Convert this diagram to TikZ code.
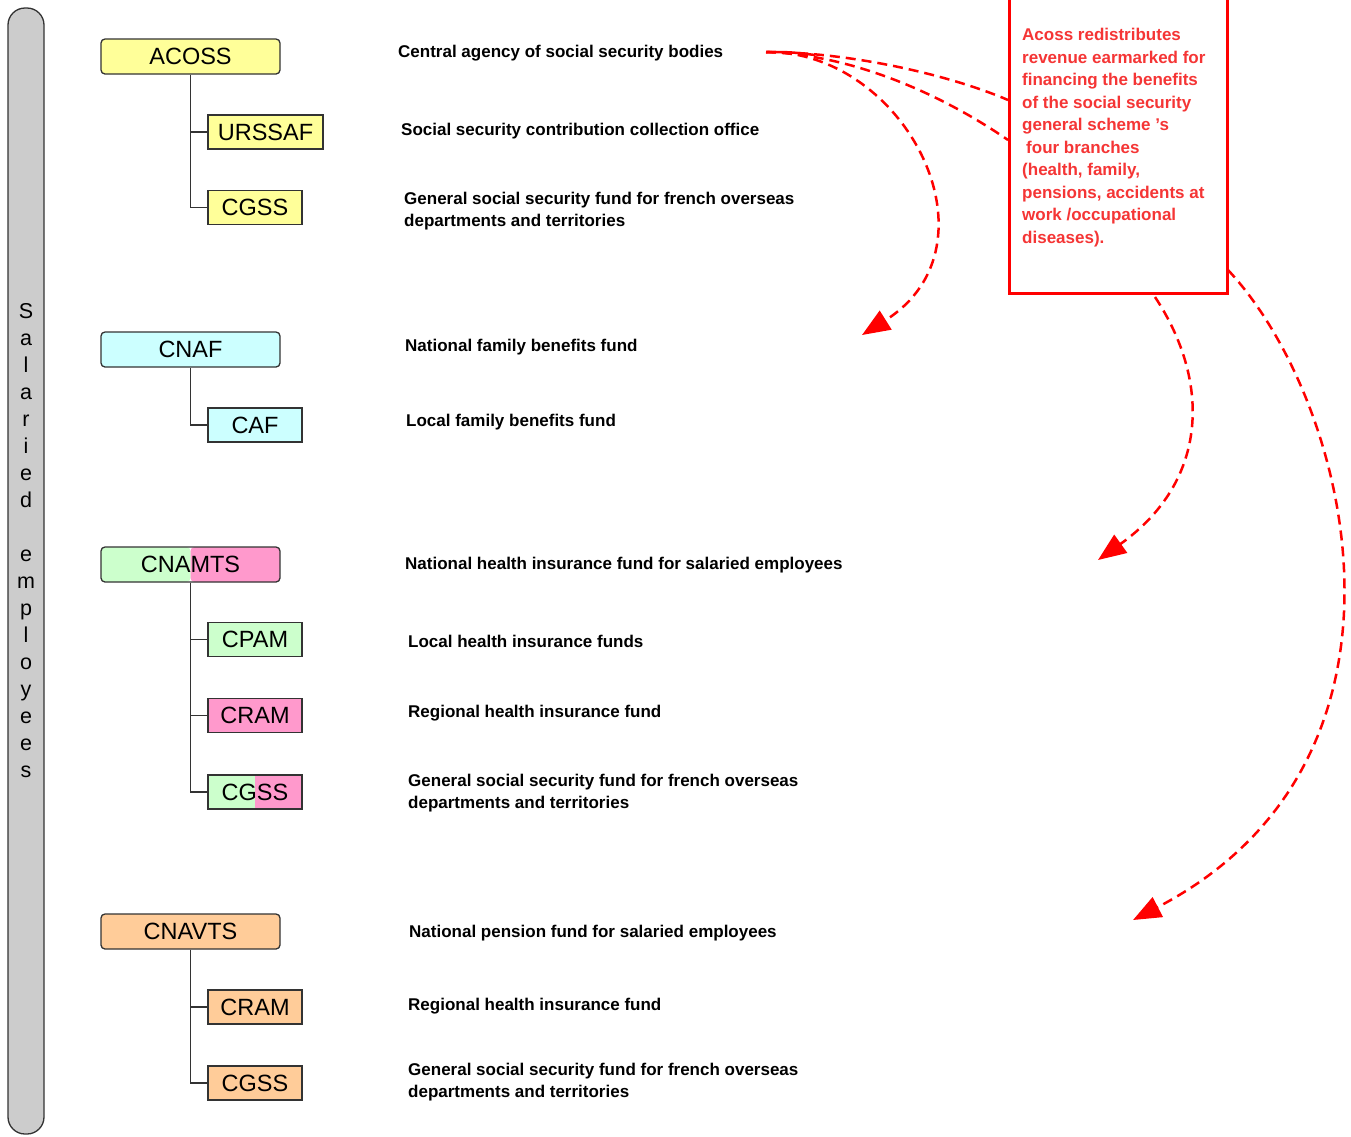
\documentclass[tikz,border=0pt]{standalone}
\usepackage{fontspec}
\setmainfont{Liberation Sans}
\usetikzlibrary{arrows.meta}
\definecolor{yel}{HTML}{FFFF99}
\definecolor{cyanb}{HTML}{CCFFFF}
\definecolor{greenb}{HTML}{CCFFCC}
\definecolor{pinkb}{HTML}{FF99CC}
\definecolor{orangeb}{HTML}{FFCC99}
\definecolor{barg}{HTML}{CCCCCC}
\definecolor{redl}{HTML}{FF0000}
\definecolor{redt}{HTML}{F53535}
\definecolor{edgec}{HTML}{333333}
\begin{document}
\begin{tikzpicture}[x=1pt,y=-1pt,
 parent/.style={draw=edgec, line width=1.3pt, rounded corners=4pt, minimum width=179pt, minimum height=35pt, inner sep=0pt, font=\fontsize{23.5}{26}\selectfont},
 child/.style={draw=edgec, line width=1.3pt, minimum width=94pt, minimum height=34pt, inner sep=0pt, font=\fontsize{23.5}{26}\selectfont},
 desc/.style={anchor=west, inner sep=0pt, align=left, font=\fontsize{17}{22}\selectfont\bfseries},
 tree/.style={draw=edgec, line width=1.3pt},
 flow/.style={draw=redl, line width=2.5pt, dash pattern=on 10pt off 6pt},
 tip/.style={-{Triangle[length=28pt,width=22pt,fill=redl]}},
 split/.style 2 args={path picture={\fill[#1] (path picture bounding box.south west) rectangle (path picture bounding box.north); \fill[#2] (path picture bounding box.south) rectangle (path picture bounding box.north east);}}
]
\useasboundingbox (0,0) rectangle (1351,1136);

% side bar
\node[draw=edgec, fill=barg, line width=1.3pt, rounded corners=17pt, minimum width=36pt, minimum height=1126pt, inner sep=0pt] (bar) at (26,571) {};
\node[align=center, inner sep=0pt, font=\fontsize{21.5}{27}\selectfont, text=black] (barlabel) at (26,541)
 {S\\a\\l\\a\\r\\i\\e\\d\\\mbox{}\\e\\m\\p\\l\\o\\y\\e\\e\\s};

% ACOSS group
\node[parent, fill=yel] (acoss) at (190.5,56.5) {ACOSS};
\node[child, fill=yel, minimum width=115pt] (urssaf) at (265.5,132) {URSSAF};
\node[child, fill=yel] (cgss1) at (255,207.5) {CGSS};
\draw[tree] (acoss.south) |- (urssaf.west);
\draw[tree] (acoss.south) |- (cgss1.west);

% CNAF group
\node[parent, fill=cyanb] (cnaf) at (190.5,349.5) {CNAF};
\node[child, fill=cyanb] (caf) at (255,425) {CAF};
\draw[tree] (cnaf.south) |- (caf.west);

% CNAMTS group
\node[parent, split={greenb}{pinkb}] (cnamts) at (190.5,564.5) {CNAMTS};
\node[child, fill=greenb] (cpam) at (255,639.5) {CPAM};
\node[child, fill=pinkb] (cram1) at (255,715.5) {CRAM};
\node[child, split={greenb}{pinkb}] (cgss2) at (255,792) {CGSS};
\draw[tree] (cnamts.south) |- (cpam.west);
\draw[tree] (cnamts.south) |- (cram1.west);
\draw[tree] (cnamts.south) |- (cgss2.west);

% CNAVTS group
\node[parent, fill=orangeb] (cnavts) at (190.5,931.5) {CNAVTS};
\node[child, fill=orangeb] (cram2) at (255,1007) {CRAM};
\node[child, fill=orangeb] (cgss3) at (255,1083) {CGSS};
\draw[tree] (cnavts.south) |- (cram2.west);
\draw[tree] (cnavts.south) |- (cgss3.west);

% descriptions
\node[desc] (d1) at (398,53) {Central agency of social security bodies};
\node[desc] (d2) at (401,131) {Social security contribution collection office};
\node[desc] (d3) at (404,211) {General social security fund for french overseas\\departments and territories};
\node[desc] (d4) at (405,347) {National family benefits fund};
\node[desc] (d5) at (406,422) {Local family benefits fund};
\node[desc] (d6) at (405,565) {National health insurance fund for salaried employees};
\node[desc] (d7) at (408,641) {Local health insurance funds};
\node[desc] (d8) at (408,713) {Regional health insurance fund};
\node[desc] (d9) at (408,793) {General social security fund for french overseas\\departments and territories};
\node[desc] (d10) at (409,933) {National pension fund for salaried employees};
\node[desc] (d11) at (408,1006) {Regional health insurance fund};
\node[desc] (d12) at (408,1082) {General social security fund for french overseas\\departments and territories};

% flow arrows
\coordinate (src) at (766,52);
\coordinate (src2) at (815,55);
\coordinate (in2) at (1008,100);
\coordinate (in3) at (1008,140);
\coordinate (out2) at (1155,297);
\coordinate (out3) at (1228,270);
\coordinate (t1) at (862,335);
\coordinate (t2) at (1098,560);
\coordinate (t3) at (1133,920);
\draw[draw=redl, line width=2.5pt] (src) .. controls (790,52) .. (src2);
\draw[flow, tip] (src) .. controls (905,50) and (1005,245) .. (t1);
\draw[flow] (src) .. controls (850,52) and (950,75) .. (in2);
\draw[flow] (src) .. controls (860,55) and (950,100) .. (in3);
\draw[flow, tip] (out2) .. controls (1210,380) and (1210,480) .. (t2);
\draw[flow, tip] (out3) .. controls (1350,400) and (1440,760) .. (t3);

% note box
\node[draw=redl, line width=3pt, fill=white, minimum width=218pt, minimum height=305pt, inner sep=0pt, anchor=south west] (note) at (1008,295) {};
\node[anchor=north west, inner sep=0pt, align=left, text=redt, font=\fontsize{17}{22.5}\selectfont\bfseries] (notetext) at (1022,28)
 {Acoss redistributes\\revenue earmarked for\\financing the benefits\\of the social security\\general scheme 's\\\hspace{4pt}four branches\\(health, family,\\pensions, accidents at\\work /occupational\\diseases).};
\end{tikzpicture}
\end{document}
